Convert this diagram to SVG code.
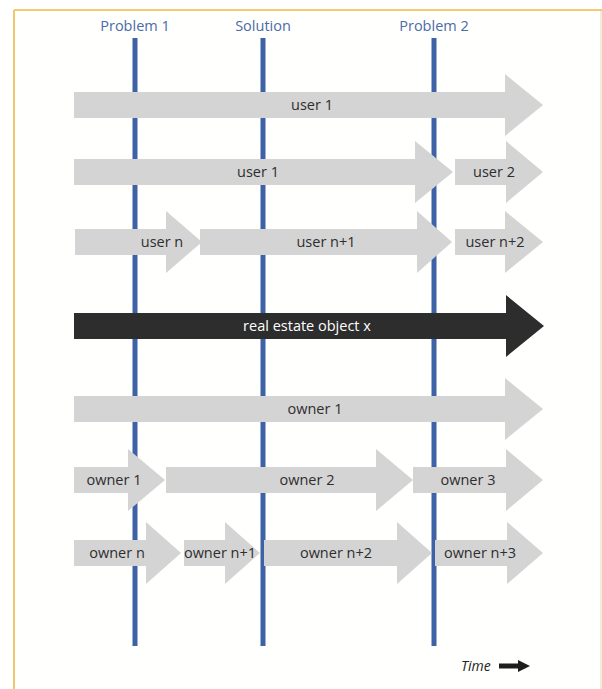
<svg xmlns="http://www.w3.org/2000/svg" width="602" height="689" viewBox="0 0 602 689">
  <style>
    .bar { fill: #d4d4d4; }
    .bar-dark { fill: #2d2d2d; }
    .lbl { font-family: "Open Sans", "Noto Sans", sans-serif; font-size: 14.5px; fill: #2e2e2e; text-anchor: middle; }
    .lbl-dark { font-family: "Open Sans", "Noto Sans", sans-serif; font-size: 14.5px; fill: #ffffff; text-anchor: middle; }
    .head { font-family: "Open Sans", "Noto Sans", sans-serif; font-size: 14.5px; fill: #4a6ca8; text-anchor: middle; }
    .milestone { stroke: #3d63a6; stroke-width: 5; }
    .time { font-family: "Open Sans", "Noto Sans", sans-serif; font-size: 14px; font-style: italic; fill: #222222; }
  </style>

  <!-- page frame -->
  <rect x="0" y="0" width="602" height="689" fill="#ffffff"/>
  <rect x="14" y="10" width="588" height="690" fill="#fffffd"/>
  <line x1="601" y1="10" x2="601" y2="689" stroke="#eee4cc" stroke-width="1.5"/>
  <line x1="14" y1="10" x2="602" y2="10" stroke="#f0b848" stroke-width="1.6"/>
  <line x1="14" y1="10" x2="14" y2="689" stroke="#f0b848" stroke-width="1.6"/>

  <!-- milestone headings -->
  <g id="headings">
    <text class="head" x="135" y="31">Problem 1</text>
    <text class="head" x="263" y="31">Solution</text>
    <text class="head" x="434" y="31">Problem 2</text>
  </g>

  <!-- milestone lines -->
  <g id="milestones">
    <line class="milestone" x1="135" y1="38" x2="135" y2="646"/>
    <line class="milestone" x1="263" y1="38" x2="263" y2="646"/>
    <line class="milestone" x1="434" y1="38" x2="434" y2="646"/>
  </g>

  <!-- row 1 -->
  <g id="row1-user1">
    <path class="bar" d="M74 92 H505 V74 L543 105 L505 136 V118 H74 Z"/>
    <text class="lbl" x="312" y="110">user 1</text>
  </g>

  <!-- row 2 -->
  <g id="row2-user1">
    <path class="bar" d="M74 159 H415 V141 L453 172 L415 203 V185 H74 Z"/>
    <text class="lbl" x="258" y="177">user 1</text>
  </g>
  <g id="row2-user2">
    <path class="bar" d="M455 159 H506 V141 L543 172 L506 203 V185 H455 Z"/>
    <text class="lbl" x="494" y="177">user 2</text>
  </g>

  <!-- row 3 -->
  <g id="row3-usern">
    <path class="bar" d="M75 229 H166 V211 L202 242 L166 273 V255 H75 Z"/>
    <text class="lbl" x="162" y="247">user n</text>
  </g>
  <g id="row3-usern1">
    <path class="bar" d="M200 229 H417 V211 L452 242 L417 273 V255 H200 Z"/>
    <text class="lbl" x="326" y="247">user n+1</text>
  </g>
  <g id="row3-usern2">
    <path class="bar" d="M455 229 H505 V211 L543 242 L505 273 V255 H455 Z"/>
    <text class="lbl" x="495" y="247">user n+2</text>
  </g>

  <!-- row 4: the object itself -->
  <g id="row4-object">
    <path class="bar-dark" d="M74 313 H506 V295 L544 326 L506 357 V339 H74 Z"/>
    <text class="lbl-dark" x="307" y="331">real estate object x</text>
  </g>

  <!-- row 5 -->
  <g id="row5-owner1">
    <path class="bar" d="M74 396 H505 V378 L543 409 L505 440 V422 H74 Z"/>
    <text class="lbl" x="315" y="414">owner 1</text>
  </g>

  <!-- row 6 -->
  <g id="row6-owner1">
    <path class="bar" d="M74 467 H128 V449 L165 480 L128 511 V493 H74 Z"/>
    <text class="lbl" x="114" y="485">owner 1</text>
  </g>
  <g id="row6-owner2">
    <path class="bar" d="M166 467 H376 V449 L413 480 L376 511 V493 H166 Z"/>
    <text class="lbl" x="307" y="485">owner 2</text>
  </g>
  <g id="row6-owner3">
    <path class="bar" d="M413 467 H506 V449 L543 480 L506 511 V493 H413 Z"/>
    <text class="lbl" x="468" y="485">owner 3</text>
  </g>

  <!-- row 7 -->
  <g id="row7-ownern">
    <path class="bar" d="M74 540 H146 V522 L181 553 L146 584 V566 H74 Z"/>
    <text class="lbl" x="117" y="558">owner n</text>
  </g>
  <g id="row7-ownern1">
    <path class="bar" d="M184 540 H225 V522 L260 553 L225 584 V566 H184 Z"/>
    <text class="lbl" x="220" y="558">owner n+1</text>
  </g>
  <g id="row7-ownern2">
    <path class="bar" d="M264 540 H397 V522 L432 553 L397 584 V566 H264 Z"/>
    <text class="lbl" x="336" y="558">owner n+2</text>
  </g>
  <g id="row7-ownern3">
    <path class="bar" d="M435 540 H507 V522 L543 553 L507 584 V566 H435 Z"/>
    <text class="lbl" x="480" y="558">owner n+3</text>
  </g>

  <!-- time legend -->
  <g id="time-legend">
    <text class="time" x="461" y="671">Time</text>
    <path fill="#1e1e1e" d="M499 663.5 H518 V660 L530 666 L518 672 V668.5 H499 Z"/>
  </g>
</svg>
